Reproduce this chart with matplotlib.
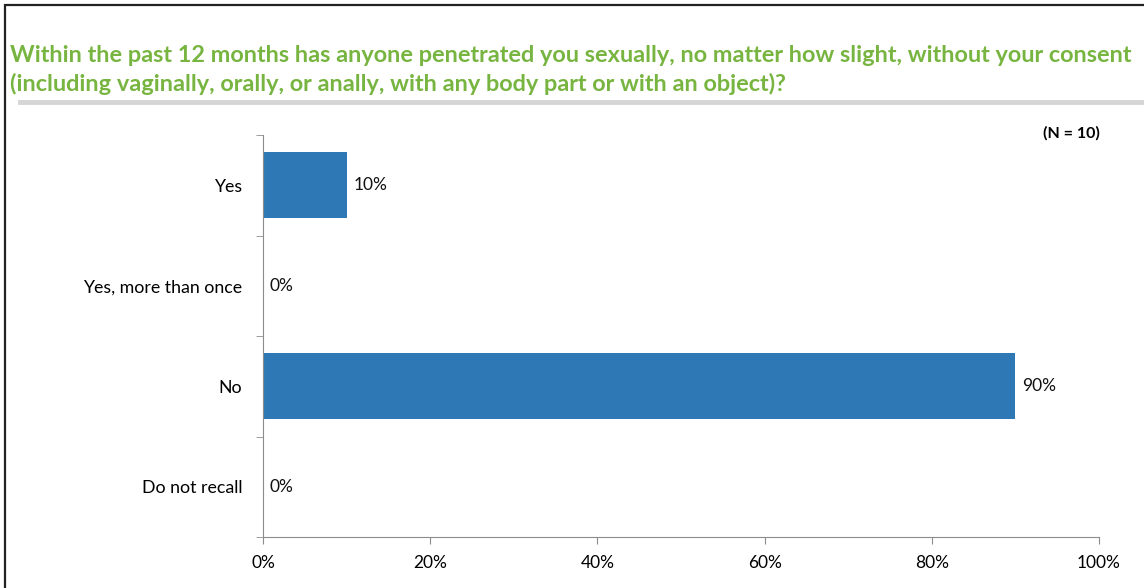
import matplotlib
matplotlib.use("Agg")
import matplotlib.pyplot as plt
from matplotlib.patches import Rectangle
from matplotlib.lines import Line2D

categories = ["Yes", "Yes, more than once", "No", "Do not recall"]
values = [10, 0, 90, 0]
x_ticks = [0, 20, 40, 60, 80, 100]
title = ("Within the past 12 months has anyone penetrated you sexually, no matter how slight, without your consent\n"
         "(including vaginally, orally, or anally, with any body part or with an object)?")
n_label = "(N = 10)"

bar_color = "#2e78b5"
green = "#77b540"
axis_gray = "#8c8c8c"

plt.rcParams["font.family"] = ["Lato", "DejaVu Sans"]

fig = plt.figure(figsize=(11.44, 5.88), dpi=100)

# outer frame and title underline
fig.add_artist(Rectangle((5 / 1144, -0.05), 1.2, 1 - 5 / 588 + 0.05, transform=fig.transFigure,
                         fill=False, edgecolor="#222222", linewidth=1.6))
fig.add_artist(Line2D([20 / 1144, 1.0], [1 - 102 / 588] * 2, transform=fig.transFigure,
                      color="#d6d6d6", linewidth=3.5))

fig.text(10 / 1144, 1 - 70 / 588, title, color=green, fontsize=16.9, fontweight="bold",
         ha="left", va="center", linespacing=1.42)

ax = fig.add_axes([263 / 1144, 1 - 537 / 588, 836 / 1144, 402 / 588])
pos = list(range(len(categories)))
ax.barh(pos, values, height=0.66, color=bar_color)
ax.set_ylim(len(categories) - 0.5, -0.5)
ax.set_xlim(0, 100)

for p, v in zip(pos, values):
    ax.text(v + 0.8, p, f"{v}%", va="center", ha="left", fontsize=12.5, color="#111111")

ax.set_xticks(x_ticks)
ax.set_xticklabels([f"{t}%" for t in x_ticks], fontsize=12.5)
ax.set_yticks(pos)
ax.set_yticklabels(categories, fontsize=12.8)
ax.set_yticks([i - 0.5 for i in range(len(categories) + 1)], minor=True)
ax.tick_params(axis="y", which="major", length=0, pad=15)
ax.tick_params(axis="y", which="minor", length=5, color=axis_gray, direction="out")
ax.tick_params(axis="x", length=5, color=axis_gray, pad=8)

for side in ["top", "right"]:
    ax.spines[side].set_visible(False)
for side in ["left", "bottom"]:
    ax.spines[side].set_color(axis_gray)

fig.text(1071 / 1144, 1 - 133 / 588, n_label, fontsize=11.5, fontweight="bold", ha="center", va="center")

fig.savefig("out.png", dpi=100)
